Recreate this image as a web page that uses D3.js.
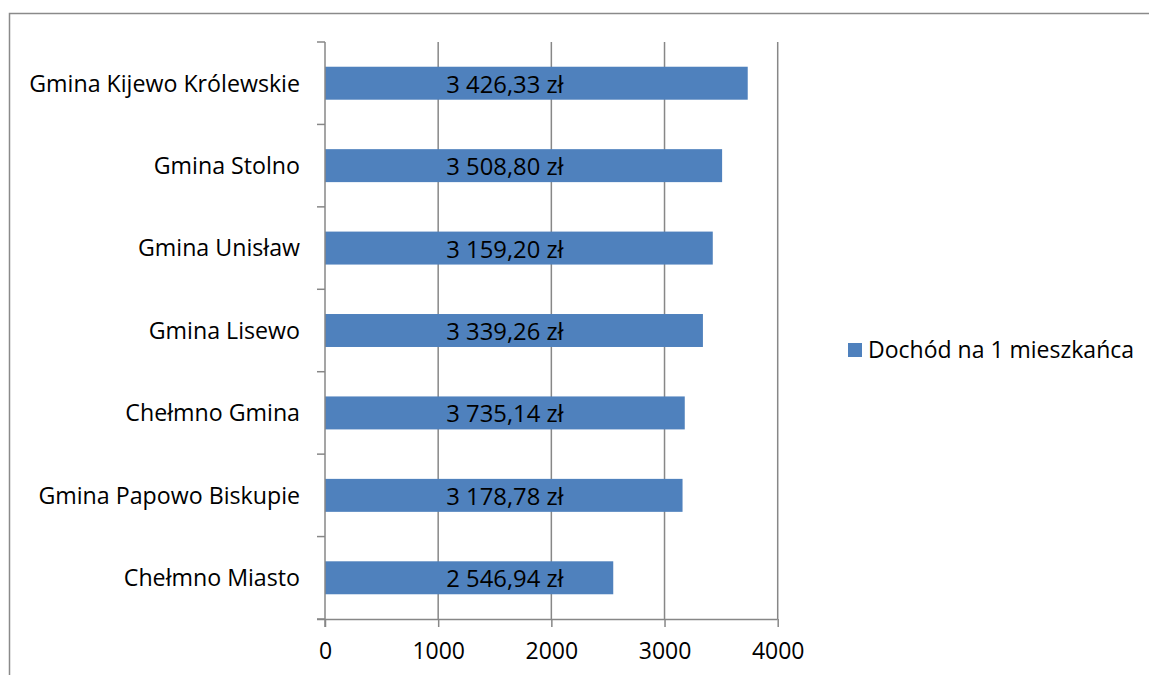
<!DOCTYPE html>
<html><head><meta charset="utf-8">
<script src="https://cdn.jsdelivr.net/npm/d3@7"></script>
<style>html,body{margin:0;padding:0;background:#fff;}svg{display:block;}</style>
</head><body>
<svg id="c" width="1149" height="675"></svg>
<script>
const categories = ["Gmina Kijewo Królewskie","Gmina Stolno","Gmina Unisław","Gmina Lisewo","Chełmno Gmina","Gmina Papowo Biskupie","Chełmno Miasto"];
const barValues = [3735.14, 3508.80, 3426.33, 3339.26, 3178.78, 3159.20, 2546.94];
const barLabels = ["3 426,33 zł","3 508,80 zł","3 159,20 zł","3 339,26 zł","3 735,14 zł","3 178,78 zł","2 546,94 zł"];
const xTicks = [0, 1000, 2000, 3000, 4000];
const seriesName = "Dochód na 1 mieszkańca";

const svg = d3.select("#c");
const FONT = "'Open Sans', sans-serif";
const GRID = "#878787";
const BAR = "#4F81BD";

// frame
svg.append("path").attr("d","M9.5,675 L9.5,13.5 L1149,13.5").attr("fill","none").attr("stroke","#8a8a8a").attr("stroke-width",1.5);

const x = d3.scaleLinear().domain([0,4000]).range([325,777.7]);
const plotTop = 42, plotBottom = 619;
const y = d3.scaleBand().domain(categories).range([plotTop,plotBottom]).paddingInner(0.6).paddingOuter(0.3);

// gridlines
svg.append("g").selectAll("line").data(xTicks.slice(1)).join("line")
  .attr("x1",d=>x(d)).attr("x2",d=>x(d)).attr("y1",plotTop).attr("y2",plotBottom)
  .attr("stroke",GRID).attr("stroke-width",1.5);

// bars
svg.append("g").selectAll("rect").data(barValues).join("rect")
  .attr("x",x(0)).attr("y",(d,i)=>y(categories[i]))
  .attr("width",d=>x(d)-x(0)).attr("height",y.bandwidth())
  .attr("fill",BAR);

// x axis
const xAxis = d3.axisBottom(x).tickValues(xTicks).tickSize(8).tickPadding(16).tickFormat(d3.format("d"));
const gx = svg.append("g").attr("transform",`translate(0,${plotBottom})`).call(xAxis);
gx.select(".domain").attr("d",`M317,0.5H${x(4000)}`).attr("stroke",GRID).attr("stroke-width",1.5);
gx.selectAll(".tick line").attr("stroke",GRID).attr("stroke-width",1.5);
gx.selectAll(".tick text").attr("font-family",FONT).attr("font-size",23).attr("fill","#000");

// y axis: ticks at band boundaries
const yb = d3.range(categories.length+1).map(i=>plotTop + i*(plotBottom-plotTop)/categories.length);
svg.append("line").attr("x1",x(0)).attr("x2",x(0)).attr("y1",plotTop).attr("y2",plotBottom+8).attr("stroke",GRID).attr("stroke-width",1.5);
svg.append("g").selectAll("line").data(yb).join("line")
  .attr("x1",317).attr("x2",x(0)).attr("y1",d=>d).attr("y2",d=>d)
  .attr("stroke",GRID).attr("stroke-width",1.5);
svg.append("g").selectAll("text").data(categories).join("text")
  .attr("x",300).attr("y",d=>y(d)+y.bandwidth()/2).attr("dy","0.36em")
  .attr("text-anchor","end").attr("font-family",FONT).attr("font-size",23.2).attr("fill","#000")
  .text(d=>d);

// value labels
svg.append("g").selectAll("text").data(barLabels).join("text")
  .attr("x",x(1590)).attr("y",(d,i)=>y(categories[i])+y.bandwidth()/2).attr("dy","0.4em")
  .attr("text-anchor","middle").attr("font-family",FONT).attr("font-size",23.8).attr("fill","#000")
  .text(d=>d);

// legend
const lg = svg.append("g");
lg.append("rect").attr("x",848).attr("y",343).attr("width",14).attr("height",14).attr("fill",BAR);
lg.append("text").attr("x",868).attr("y",350).attr("dy","0.36em").attr("font-family",FONT).attr("font-size",23).attr("fill","#000").text(seriesName);
</script>
</body></html>
